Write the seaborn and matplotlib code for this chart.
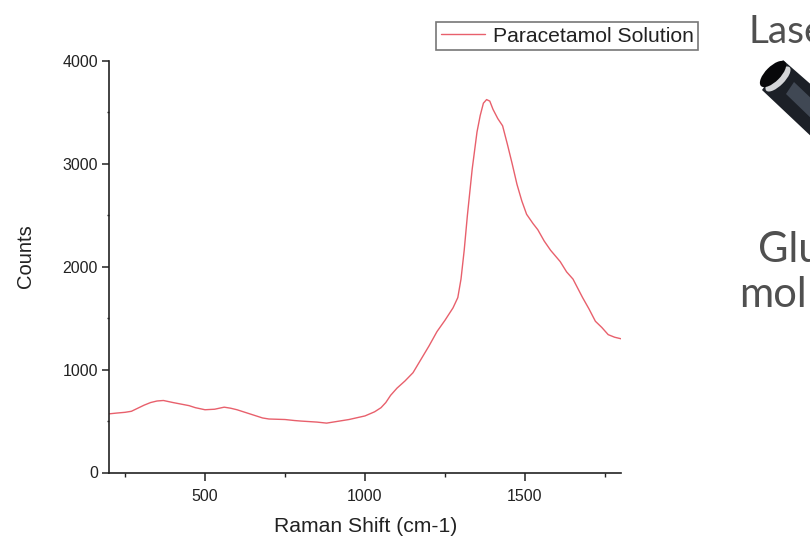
#!/usr/bin/env python3

import matplotlib

matplotlib.use("Agg")
import matplotlib.pyplot as plt
from matplotlib.patches import Ellipse, Polygon
from matplotlib.ticker import MultipleLocator
from matplotlib.transforms import IdentityTransform
import pandas
import seaborn as sns

# Values
raman_shift = [
    200, 225, 250, 270, 290, 310, 330, 350, 370, 385, 400, 425, 450, 470,
    500, 530, 560, 580, 600, 625, 650, 680, 700, 750, 780, 800, 850, 880,
    920, 950, 1000, 1030, 1050, 1065, 1080, 1100, 1125, 1150, 1175, 1200,
    1225, 1250, 1275, 1290, 1300, 1310, 1320, 1335, 1350, 1360, 1370, 1380,
    1390, 1400, 1415, 1430, 1445, 1460, 1475, 1490, 1505, 1525, 1540, 1560,
    1580, 1610, 1630, 1650, 1680, 1700, 1720, 1740, 1760, 1780, 1800,
]
counts = [
    570, 578, 585, 595, 625, 655, 680, 695, 700, 690, 680, 665, 650, 630,
    610, 615, 635, 625, 610, 585, 560, 530, 520, 515, 505, 500, 490, 480,
    500, 515, 550, 590, 630, 680, 750, 820, 890, 970, 1100, 1230, 1370,
    1480, 1600, 1700, 1880, 2160, 2500, 2950, 3310, 3470, 3590, 3625, 3610,
    3530, 3440, 3370, 3190, 3000, 2800, 2640, 2510, 2420, 2360, 2250, 2160,
    2050, 1950, 1880, 1700, 1590, 1470, 1410, 1340, 1315, 1300,
]
series_name = "Paracetamol Solution"
line_color = "#e8606c"
text_color = "#222222"

W, H = 810, 539


def draw_laser(fig):
    """
    Black laser head cut off by the right edge
    """
    px = IdentityTransform()

    def flip(points):
        return [(x, H - y) for x, y in points]

    shapes = [
        ([(783, 60), (815, 88), (815, 140), (762, 90)], "#1c2027"),
        ([(794, 82), (815, 102), (815, 122), (786, 94)], "#404854"),
    ]
    for points, color in shapes:
        fig.add_artist(Polygon(flip(points), closed=True, transform=px,
                               facecolor=color, edgecolor="none"))
    fig.add_artist(Ellipse((778, H - 79), 33, 13, angle=45, transform=px,
                           facecolor="#d4d5d7", edgecolor="none"))
    fig.add_artist(Ellipse((773, H - 74), 34, 15, angle=45, transform=px,
                           facecolor="#08080a", edgecolor="none"))


def main():
    sns.set_theme(style="ticks")
    plt.rcParams["font.family"] = ["Liberation Sans", "DejaVu Sans"]

    fig = plt.figure(figsize=(W / 100, H / 100), dpi=100)
    ax = fig.add_axes([109 / W, 1 - 472.5 / H, (621 - 109) / W, (472.5 - 61) / H])

    df = pandas.DataFrame({"shift": raman_shift, "counts": counts})
    sns.lineplot(
        data=df, x="shift", y="counts", color=line_color, linewidth=1.0,
        label=series_name, ax=ax, errorbar=None,
    )

    ax.set_xlim(200, 1800)
    ax.set_ylim(0, 4000)
    ax.xaxis.set_major_locator(MultipleLocator(500))
    ax.xaxis.set_minor_locator(MultipleLocator(250))
    ax.yaxis.set_major_locator(MultipleLocator(1000))
    ax.yaxis.set_minor_locator(MultipleLocator(500))
    ax.tick_params(which="major", width=1.1, color=text_color,
                   labelsize=11.5, labelcolor=text_color)
    ax.tick_params(axis="x", which="major", length=6, pad=6)
    ax.tick_params(axis="y", which="major", length=5, pad=3)
    ax.tick_params(axis="x", which="minor", length=3, width=1.0, color=text_color)
    ax.tick_params(axis="y", which="minor", length=1.5, width=1.0, color=text_color)
    sns.despine(ax=ax)
    for side in ["left", "bottom"]:
        ax.spines[side].set_linewidth(1.2)
        ax.spines[side].set_color(text_color)

    ax.set_xlabel("")
    ax.set_ylabel("")
    fig.text(365.5 / W, 1 - 526 / H, "Raman Shift (cm-1)", fontsize=15.2,
             color=text_color, ha="center", va="center")
    fig.text(26 / W, 1 - 256 / H, "Counts", fontsize=14.5, color=text_color,
             rotation=90, ha="center", va="center")

    leg = ax.legend(
        loc="upper left", bbox_to_anchor=(436 / W, 1 - 22 / H),
        bbox_transform=fig.transFigure, fontsize=15.2, frameon=True,
        fancybox=False, borderaxespad=0, borderpad=0.22, handlelength=2.08,
        handletextpad=0.38, labelcolor=text_color,
    )
    leg.get_frame().set_edgecolor("#777777")
    leg.get_frame().set_linewidth(1.2)
    leg.get_frame().set_alpha(1)

    # Cut off schematic on the right edge
    for label, x, y, size in [("Lase", 748, 43, 28), ("Glu", 758, 262, 30), ("mol", 739, 307, 30)]:
        fig.text(x / W, 1 - y / H, label, fontsize=size, color="#505050",
                 family="Lato", va="baseline", ha="left")

    draw_laser(fig)

    fig.savefig("out.png", dpi=100)


if __name__ == "__main__":
    main()
